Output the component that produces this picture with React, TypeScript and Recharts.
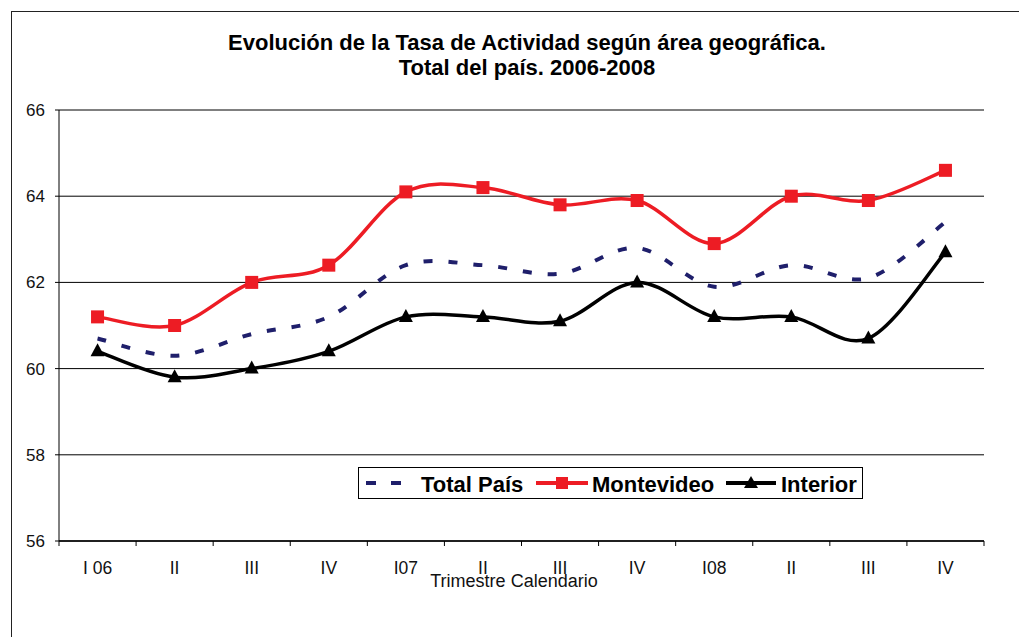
import React from "react";
import { LineChart, Line, XAxis, YAxis, CartesianGrid } from "recharts";

const trimestres = ["I 06", "II", "III", "IV", "I07", "II", "III", "IV", "I08", "II", "III", "IV"];
const totalPais = [60.7, 60.3, 60.8, 61.2, 62.4, 62.4, 62.2, 62.8, 61.9, 62.4, 62.1, 63.4];
const montevideo = [61.2, 61.0, 62.0, 62.4, 64.1, 64.2, 63.8, 63.9, 62.9, 64.0, 63.9, 64.6];
const interior = [60.4, 59.8, 60.0, 60.4, 61.2, 61.2, 61.1, 62.0, 61.2, 61.2, 60.7, 62.7];
const yTicks = [56, 58, 60, 62, 64, 66];

const data = trimestres.map((t, i) => ({
  id: i,
  label: t,
  total: totalPais[i],
  mvd: montevideo[i],
  int: interior[i],
}));

const FONT = "'Liberation Sans', Arial, sans-serif";
const RED = "#ED1C24";
const NAVY = "#1F1F6B";

// Excel-like smoothed line (Catmull-Rom through the points)
const excelCurve: any = (context: any) => {
  let pts: number[][] = [];
  return {
    areaStart() {},
    areaEnd() {},
    lineStart() {
      pts = [];
    },
    lineEnd() {
      const n = pts.length;
      if (!n) return;
      context.moveTo(pts[0][0], pts[0][1]);
      for (let i = 0; i < n - 1; i++) {
        const p0 = pts[Math.max(i - 1, 0)];
        const p1 = pts[i];
        const p2 = pts[i + 1];
        const p3 = pts[Math.min(i + 2, n - 1)];
        context.bezierCurveTo(
          p1[0] + (p2[0] - p0[0]) / 6,
          p1[1] + (p2[1] - p0[1]) / 6,
          p2[0] - (p3[0] - p1[0]) / 6,
          p2[1] - (p3[1] - p1[1]) / 6,
          p2[0],
          p2[1]
        );
      }
    },
    point(x: number, y: number) {
      pts.push([+x, +y]);
    },
  };
};

const SquareDot = (props: any) => {
  const { cx, cy, index } = props;
  if (cx == null || cy == null) return <g key={index} />;
  return <rect key={index} x={cx - 6.5} y={cy - 6.5} width={13} height={13} fill={RED} />;
};

const TriangleDot = (props: any) => {
  const { cx, cy, index } = props;
  if (cx == null || cy == null) return <g key={index} />;
  return (
    <polygon
      key={index}
      points={`${cx},${cy - 8} ${cx + 7},${cy + 5} ${cx - 7},${cy + 5}`}
      fill="#000"
    />
  );
};

const XTick = (props: any) => {
  const { x, y, payload, index } = props;
  const half = payload && payload.offset ? payload.offset : 925 / 12 / 2;
  const last = index === trimestres.length - 1;
  return (
    <g>
      <line x1={x - half} x2={x - half} y1={y} y2={y + 5} stroke="#000" />
      {last && <line x1={x + half} x2={x + half} y1={y} y2={y + 5} stroke="#000" />}
      <text x={x} y={y + 33} textAnchor="middle" fontSize={17.5} fill="#111" fontFamily={FONT}>
        {trimestres[payload.value]}
      </text>
    </g>
  );
};

export default function App() {
  return (
    <div
      style={{
        position: "absolute",
        left: 0,
        top: 0,
        width: 1019,
        height: 637,
        background: "#fff",
        overflow: "hidden",
        fontFamily: FONT,
      }}
    >
      <div
        style={{
          position: "absolute",
          left: 11,
          top: 11,
          width: 1100,
          height: 700,
          borderLeft: "1.5px solid #222",
          borderTop: "1.5px solid #222",
        }}
      />
      <div
        style={{
          position: "absolute",
          left: 127,
          top: 30,
          width: 800,
          textAlign: "center",
          fontSize: 22,
          fontWeight: "bold",
          lineHeight: "25px",
          color: "#000",
        }}
      >
        Evolución de la Tasa de Actividad según área geográfica.
        <br />
        Total del país. 2006-2008
      </div>

      <LineChart
        width={1019}
        height={637}
        data={data}
        margin={{ top: 110, right: 35, bottom: 50, left: 0 }}
        style={{ position: "absolute", left: 0, top: 0 }}
      >
        <CartesianGrid vertical={false} stroke="#000" strokeWidth={1} yAxisId="l" />
        <XAxis
          dataKey="id"
          type="category"
          scale="band"
          height={46}
          tickSize={0}
          tickMargin={0}
          interval={0}
          axisLine={{ stroke: "#000", strokeWidth: 1.5 }}
          tickLine={false}
          tick={<XTick />}
        />
        <YAxis
          yAxisId="l"
          width={59}
          domain={[56, 66]}
          ticks={yTicks}
          interval={0}
          tickSize={4}
          tickMargin={10}
          axisLine={{ stroke: "#000" }}
          tickLine={{ stroke: "#000" }}
          tick={{ fontSize: 17, fill: "#111", fontFamily: FONT }}
        />
        <YAxis
          yAxisId="r"
          orientation="right"
          width={0}
          domain={[56, 66]}
          tick={false}
          tickLine={false}
          axisLine={{ stroke: "#888", strokeWidth: 1.5 }}
        />
        <Line
          yAxisId="l"
          dataKey="total"
          type={excelCurve}
          stroke={NAVY}
          strokeWidth={4}
          strokeDasharray="9 16"
          dot={false}
          activeDot={false}
          isAnimationActive={false}
        />
        <Line
          yAxisId="l"
          dataKey="mvd"
          type={excelCurve}
          stroke={RED}
          strokeWidth={3.5}
          dot={<SquareDot />}
          activeDot={false}
          isAnimationActive={false}
        />
        <Line
          yAxisId="l"
          dataKey="int"
          type={excelCurve}
          stroke="#000"
          strokeWidth={3.5}
          dot={<TriangleDot />}
          activeDot={false}
          isAnimationActive={false}
        />
      </LineChart>

      <div
        style={{
          position: "absolute",
          left: 414,
          top: 571,
          width: 200,
          textAlign: "center",
          fontSize: 18,
          lineHeight: "20px",
          color: "#111",
        }}
      >
        Trimestre Calendario
      </div>

      <div
        style={{
          position: "absolute",
          left: 358,
          top: 467,
          width: 503,
          height: 30,
          border: "1px solid #000",
          background: "#fff",
        }}
      >
        <svg width={503} height={30} style={{ display: "block" }}>
          <line x1={7} x2={42} y1={15} y2={15} stroke={NAVY} strokeWidth={4} strokeDasharray="10 15" />
          <text x={62} y={24} fontSize={22} fontWeight="bold" fontFamily={FONT} fill="#000">
            Total País
          </text>
          <line x1={177} x2={229} y1={15} y2={15} stroke={RED} strokeWidth={4} />
          <rect x={197} y={9} width={12} height={12} fill={RED} />
          <text x={233} y={24} fontSize={22} fontWeight="bold" fontFamily={FONT} fill="#000">
            Montevideo
          </text>
          <line x1={367} x2={417} y1={15} y2={15} stroke="#000" strokeWidth={4} />
          <polygon points="392,8 399,20 385,20" fill="#000" />
          <text x={422} y={24} fontSize={22} fontWeight="bold" fontFamily={FONT} fill="#000">
            Interior
          </text>
        </svg>
      </div>
    </div>
  );
}
